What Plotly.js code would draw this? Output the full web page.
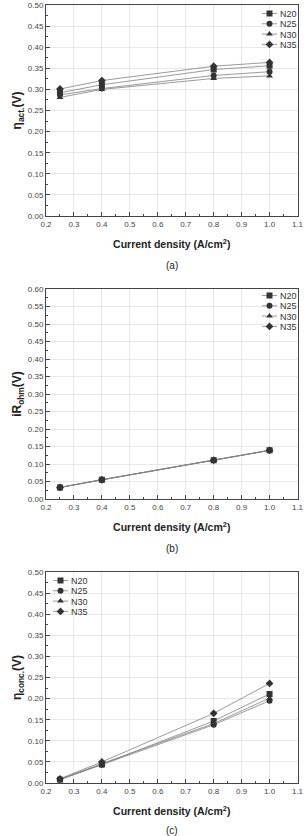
<!DOCTYPE html>
<html>
<head>
<meta charset="utf-8">
<script src="https://cdn.plot.ly/plotly-3.0.1.min.js"></script>
<style>html,body{margin:0;padding:0;background:#fff;}#chart{width:305px;height:836px;}</style>
</head>
<body>
<div id="chart"></div>
<script>
// Data
const currentDensity = [0.25, 0.4, 0.8, 1.0];
const seriesNames = ["N20", "N25", "N30", "N35"];

const etaAct = {
  N20: [0.292, 0.311, 0.347, 0.356],
  N25: [0.287, 0.302, 0.333, 0.342],
  N30: [0.281, 0.300, 0.326, 0.332],
  N35: [0.301, 0.321, 0.355, 0.364]
};
const iROhm = {
  N20: [0.033, 0.055, 0.111, 0.139],
  N25: [0.033, 0.055, 0.111, 0.139],
  N30: [0.033, 0.055, 0.111, 0.139],
  N35: [0.033, 0.055, 0.111, 0.139]
};
const etaConc = {
  N20: [0.008, 0.044, 0.147, 0.211],
  N25: [0.008, 0.043, 0.138, 0.195],
  N30: [0.009, 0.046, 0.141, 0.201],
  N35: [0.010, 0.050, 0.165, 0.236]
};
const xTickVals = [0.2, 0.3, 0.4, 0.5, 0.6, 0.7, 0.8, 0.9, 1.0, 1.1];
const yTitles = ["η<sub>act.</sub>(V)", "iR<sub>ohm</sub>(V)", "η<sub>conc.</sub>(V)"];
const captions = ["(a)", "(b)", "(c)"];

const symbols = {N20: "square", N25: "circle", N30: "triangle-up", N35: "diamond"};
const panels = [etaAct, iROhm, etaConc];
const yRanges = [[0, 0.5], [0, 0.6], [0, 0.5]];

const H = 836;
const pxDom = [[5, 216], [289, 499], [572, 783]];
const xDom = [46 / 305, 297.5 / 305];

const traces = [];
panels.forEach((panel, p) => {
  const sfx = p === 0 ? "" : String(p + 1);
  seriesNames.forEach(name => {
    traces.push({
      x: currentDensity,
      y: panel[name],
      name: name,
      type: "scatter",
      mode: "lines+markers",
      xaxis: "x" + sfx,
      yaxis: "y" + sfx,
      legend: "legend" + sfx,
      line: {color: "#808080", width: 0.8},
      marker: {symbol: symbols[name], size: 6, color: "#333333"}
    });
  });
});

const font = {family: "Liberation Sans, Arial, sans-serif", color: "#222"};
const layout = {
  width: 305, height: 836,
  margin: {l: 0, r: 0, t: 0, b: 0},
  paper_bgcolor: "#fff", plot_bgcolor: "#fff",
  font: font,
  annotations: [],
  showlegend: true
};

panels.forEach((panel, p) => {
  const sfx = p === 0 ? "" : String(p + 1);
  const dom = [1 - pxDom[p][1] / H, 1 - pxDom[p][0] / H];
  layout["xaxis" + sfx] = {
    domain: xDom, anchor: "y" + sfx, range: [0.2, 1.1],
    tickvals: xTickVals, tickformat: ".1f",
    ticks: "inside", ticklen: 4, tickcolor: "#444", tickwidth: 1,
    minor: {dtick: 0.05, ticks: "inside", ticklen: 2, tickcolor: "#444", showgrid: false},
    showline: true, linecolor: "#444", linewidth: 1, mirror: true,
    showgrid: true, gridcolor: "#e8e8e8", gridwidth: 1,
    zeroline: false,
    tickfont: {size: 8, color: "#444", family: font.family},
    title: {text: "<b>Current density (A/cm<sup>2</sup>)</b>", font: {size: 10.5, color: "#222", family: font.family}, standoff: 13}
  };
  layout["yaxis" + sfx] = {
    domain: dom, anchor: "x" + sfx, range: yRanges[p],
    dtick: 0.05, tick0: 0, tickformat: ".2f",
    ticks: "inside", ticklen: 4, tickcolor: "#444", tickwidth: 1,
    minor: {dtick: 0.025, ticks: "inside", ticklen: 2, tickcolor: "#444", showgrid: false},
    showline: true, linecolor: "#444", linewidth: 1, mirror: true,
    showgrid: true, gridcolor: "#e8e8e8", gridwidth: 1,
    zeroline: false,
    tickfont: {size: 8, color: "#444", family: font.family},
    title: {text: "<b>" + yTitles[p] + "</b>", font: {size: 12, color: "#222", family: font.family}, standoff: 3}
  };
  const capY = [265, 548, 830][p];
  layout.annotations.push({
    text: captions[p], xref: "paper", yref: "paper",
    x: 171.5 / 305, y: 1 - capY / H, xanchor: "center", yanchor: "middle",
    showarrow: false, font: {size: 10, color: "#222", family: font.family}
  });
});

const legBase = {
  bgcolor: "rgba(0,0,0,0)", borderwidth: 0,
  font: {size: 9, color: "#333", family: font.family},
  itemwidth: 30, tracegroupgap: 0
};
layout.legend = Object.assign({}, legBase, {x: 1 - 8 / 305, xanchor: "right", y: 1 - 6 / H, yanchor: "top"});
layout.legend2 = Object.assign({}, legBase, {x: 1 - 8 / 305, xanchor: "right", y: 1 - 290 / H, yanchor: "top"});
layout.legend3 = Object.assign({}, legBase, {x: 48 / 305, xanchor: "left", y: 1 - 573 / H, yanchor: "top"});

// target: left edge of first legend text, vertical centre of first legend row (page px)
const legendTargets = [[280, 14], [280, 296], [71, 581]];
const rowStep = 10.3;

function compactLegends(gd) {
  // group legend entries by their legend text (names) order: each legend has 4 entries
  const allItems = Array.from(gd.querySelectorAll("g.traces")).filter(t => t.querySelector("text"));
  // identify legend containers
  const containers = [];
  allItems.forEach(t => {
    let c = t.parentNode;
    while (c && !(c.getAttribute && /(^|\s)legend\d*(\s|$)/.test(c.getAttribute("class") || ""))) c = c.parentNode;
    if (!c) return;
    let entry = containers.find(e => e.el === c);
    if (!entry) { entry = {el: c, items: []}; containers.push(entry); }
    entry.items.push(t);
  });
  containers.forEach(entry => {
    const cls = (entry.el.getAttribute("class") || "").match(/legend(\d*)/);
    const idx = cls && cls[1] ? parseInt(cls[1], 10) - 1 : 0;
    const target = legendTargets[idx];
    if (!target) return;
    entry.el.querySelectorAll("[clip-path]").forEach(n => n.removeAttribute("clip-path"));
    entry.el.removeAttribute("clip-path");
    entry.items.forEach((t, i) => {
      t.querySelectorAll(".legendlines path").forEach(p => p.setAttribute("d", "M0,0h15"));
      t.querySelectorAll(".legendpoints path").forEach(p => p.setAttribute("transform", "translate(7.5,0)"));
      const tx = t.querySelector("text");
      if (tx) {
        tx.setAttribute("x", "18");
        tx.querySelectorAll("tspan").forEach(s => { if (s.hasAttribute("x")) s.setAttribute("x", "18"); });
      }
      t.setAttribute("transform", "translate(0," + (i * rowStep) + ")");
    });
    const txt = entry.items[0].querySelector("text");
    if (!txt) return;
    const bb = txt.getBoundingClientRect();
    const dx = target[0] - bb.left;
    const dy = target[1] - (bb.top + bb.height / 2);
    entry.items.forEach((t, i) => t.setAttribute("transform", "translate(" + dx + "," + (i * rowStep + dy) + ")"));
  });
}

Plotly.newPlot("chart", traces, layout, {staticPlot: true, displayModeBar: false}).then(gd => {
  try { compactLegends(gd); } catch (e) { console.log(e); }
});
</script>
</body>
</html>
